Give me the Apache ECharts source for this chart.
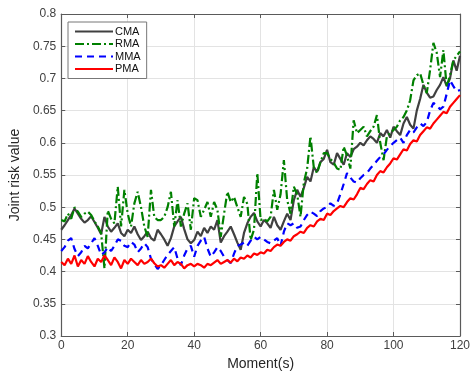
<!DOCTYPE html>
<html>
<head>
<meta charset="utf-8">
<script src="https://cdn.jsdelivr.net/npm/echarts@6/dist/echarts.min.js"></script>
<style>html,body{margin:0;padding:0;background:#fff}#c{width:473px;height:376px}</style>
</head>
<body>
<div id="c"></div>
<script>
const seriesNames = ['CMA', 'RMA', 'MMA', 'PMA'];
const xTicks = [0, 20, 40, 60, 80, 100, 120];
const yTicks = [0.3, 0.35, 0.4, 0.45, 0.5, 0.55, 0.6, 0.65, 0.7, 0.75, 0.8];

const CMA = [
  0.465, 0.472, 0.480, 0.488, 0.498, 0.490, 0.482, 0.476, 0.480, 0.486,
  0.477, 0.468, 0.458, 0.485, 0.470, 0.462, 0.468, 0.475, 0.460, 0.455,
  0.465, 0.460, 0.470, 0.458, 0.449, 0.455, 0.462, 0.452, 0.448, 0.465,
  0.458, 0.450, 0.440, 0.452, 0.470, 0.478, 0.485, 0.466, 0.450, 0.444,
  0.449, 0.462, 0.455, 0.468, 0.460, 0.470, 0.465, 0.480, 0.445, 0.455,
  0.462, 0.470, 0.458, 0.445, 0.434, 0.460, 0.475, 0.485, 0.491, 0.478,
  0.470, 0.480, 0.475, 0.468, 0.485, 0.472, 0.465, 0.478, 0.490, 0.480,
  0.511, 0.527, 0.516, 0.530, 0.547, 0.540, 0.562, 0.555, 0.570, 0.575,
  0.589, 0.570, 0.566, 0.584, 0.575, 0.566, 0.584, 0.578, 0.590, 0.594,
  0.600, 0.596, 0.604, 0.610, 0.606, 0.600, 0.615, 0.610, 0.620, 0.608,
  0.625, 0.618, 0.612, 0.630, 0.640, 0.628, 0.622, 0.650, 0.668, 0.690,
  0.678, 0.670, 0.672, 0.682, 0.690, 0.702, 0.688, 0.700, 0.728, 0.712,
  0.735
];
const RMA = [
  0.480, 0.478, 0.490, 0.482, 0.500, 0.493, 0.485, 0.490, 0.493, 0.488,
  0.478, 0.470, 0.460, 0.405, 0.495, 0.482, 0.475, 0.532, 0.470, 0.527,
  0.490, 0.470, 0.506, 0.524, 0.500, 0.470, 0.454, 0.527, 0.485, 0.480,
  0.480, 0.485, 0.500, 0.524, 0.470, 0.511, 0.470, 0.490, 0.506, 0.465,
  0.514, 0.511, 0.485, 0.496, 0.508, 0.485, 0.508, 0.496, 0.454, 0.490,
  0.524, 0.508, 0.516, 0.500, 0.485, 0.516, 0.505, 0.449, 0.465, 0.553,
  0.480, 0.482, 0.478, 0.485, 0.527, 0.496, 0.520, 0.573, 0.511, 0.490,
  0.532, 0.520, 0.485, 0.538, 0.560, 0.610, 0.562, 0.553, 0.570, 0.584,
  0.584, 0.575, 0.569, 0.560, 0.558, 0.594, 0.580, 0.560, 0.635, 0.615,
  0.620, 0.625, 0.610, 0.618, 0.625, 0.643, 0.600, 0.573, 0.610, 0.615,
  0.620, 0.625, 0.635, 0.640, 0.650, 0.666, 0.697, 0.705, 0.708, 0.690,
  0.677, 0.713, 0.755, 0.740, 0.702, 0.744, 0.687, 0.705, 0.728, 0.735,
  0.742
];
const MMA = [
  0.432, 0.438, 0.448, 0.452, 0.435, 0.424, 0.430, 0.440, 0.436, 0.444,
  0.452, 0.440, 0.426, 0.430, 0.438, 0.432, 0.440, 0.450, 0.448, 0.440,
  0.438, 0.446, 0.442, 0.430, 0.436, 0.444, 0.438, 0.420, 0.412, 0.404,
  0.410, 0.418, 0.426, 0.432, 0.438, 0.420, 0.410, 0.425, 0.436, 0.440,
  0.423, 0.440, 0.448, 0.454, 0.436, 0.423, 0.430, 0.438, 0.432, 0.423,
  0.418, 0.413, 0.428, 0.440, 0.442, 0.445, 0.440, 0.448, 0.454, 0.450,
  0.454, 0.450, 0.446, 0.444, 0.448, 0.452, 0.440, 0.462, 0.475, 0.472,
  0.475, 0.468, 0.470, 0.480, 0.488, 0.493, 0.490, 0.486, 0.494, 0.498,
  0.500, 0.506, 0.502, 0.506, 0.520, 0.536, 0.553, 0.546, 0.540, 0.538,
  0.545, 0.550, 0.553, 0.560, 0.566, 0.572, 0.578, 0.582, 0.589, 0.595,
  0.600, 0.604, 0.608, 0.600, 0.612, 0.620, 0.616, 0.624, 0.630, 0.626,
  0.632, 0.650, 0.662, 0.658, 0.652, 0.656, 0.676, 0.697, 0.688, 0.680,
  0.682
];
const PMA = [
  0.415, 0.410, 0.420, 0.412, 0.425, 0.408, 0.418, 0.412, 0.424, 0.415,
  0.408, 0.420, 0.415, 0.425, 0.418, 0.410, 0.422, 0.415, 0.405, 0.418,
  0.412, 0.420, 0.415, 0.410, 0.418, 0.412, 0.415, 0.420, 0.413, 0.408,
  0.410, 0.406, 0.412, 0.418, 0.410, 0.415, 0.412, 0.405, 0.410, 0.412,
  0.408, 0.412, 0.410, 0.406, 0.412, 0.410, 0.414, 0.418, 0.412, 0.415,
  0.418, 0.414, 0.420, 0.416, 0.422, 0.420, 0.425, 0.422, 0.428, 0.426,
  0.430, 0.428, 0.434, 0.432, 0.438, 0.442, 0.440, 0.446, 0.450, 0.448,
  0.455, 0.458, 0.462, 0.460, 0.468, 0.472, 0.470, 0.478, 0.482, 0.480,
  0.490, 0.488, 0.494, 0.498, 0.502, 0.500, 0.508, 0.514, 0.512, 0.520,
  0.530, 0.528, 0.536, 0.542, 0.540, 0.550, 0.556, 0.554, 0.562, 0.568,
  0.576, 0.574, 0.582, 0.590, 0.588, 0.598, 0.604, 0.602, 0.612, 0.618,
  0.624, 0.622, 0.630, 0.636, 0.642, 0.648, 0.646, 0.656, 0.662, 0.668,
  0.674
];

const pairs = arr => arr.map((v, i) => [i, v]);
const FONT = 'Liberation Sans, Arial, sans-serif';
const chart = echarts.init(document.getElementById('c'), null, {renderer: 'canvas'});

const frame = '#5a5a5a';
const baseX = {
  type: 'value', min: xTicks[0], max: xTicks[xTicks.length - 1], interval: 20,
  axisLine: {show: true, onZero: false, lineStyle: {color: frame, width: 1.2}},
  axisTick: {show: true, inside: true, length: 4, lineStyle: {color: frame}},
  splitLine: {show: false}
};
const baseY = {
  type: 'value', min: yTicks[0], max: yTicks[yTicks.length - 1], interval: 0.05,
  axisLine: {show: true, onZero: false, lineStyle: {color: frame, width: 1.2}},
  axisTick: {show: true, inside: true, length: 4, lineStyle: {color: frame}},
  splitLine: {show: false}
};

chart.setOption({
  animation: false,
  backgroundColor: '#fff',
  textStyle: {fontFamily: FONT},
  grid: {left: 58, right: 8, top: 14, bottom: 40, containLabel: false},
  legend: {
    orient: 'vertical', left: 68, top: 22,
    data: seriesNames,
    itemWidth: 38, itemHeight: 12, itemGap: 1.5,
    padding: [4, 6, 4, 6],
    itemStyle: {opacity: 0},
    borderColor: '#777', borderWidth: 1, backgroundColor: '#fff',
    textStyle: {fontFamily: FONT, fontSize: 11, color: '#111', padding: [0, 0, 0, -3]}
  },
  xAxis: [
    Object.assign({}, baseX, {
      position: 'bottom',
      name: 'Moment(s)', nameLocation: 'middle', nameGap: 20,
      nameTextStyle: {fontFamily: FONT, fontSize: 14, color: '#262626'},
      axisLabel: {fontFamily: FONT, fontSize: 12, color: '#404040', margin: 4},
      splitLine: {show: true, lineStyle: {color: '#e3e3e3', width: 1}}
    }),
    Object.assign({}, baseX, {position: 'top', axisLabel: {show: false}})
  ],
  yAxis: [
    Object.assign({}, baseY, {
      position: 'left',
      name: 'Joint risk value', nameLocation: 'middle', nameGap: 38, nameRotate: 90,
      nameTextStyle: {fontFamily: FONT, fontSize: 14, color: '#262626'},
      axisLabel: {fontFamily: FONT, fontSize: 12, color: '#404040', margin: 5},
      splitLine: {show: true, lineStyle: {color: '#e3e3e3', width: 1}}
    }),
    Object.assign({}, baseY, {position: 'right', axisLabel: {show: false}})
  ],
  series: [
    {name: 'CMA', type: 'line', data: pairs(CMA), symbol: 'none', color: '#404040',
     lineStyle: {color: '#404040', width: 2.2, type: 'solid'}},
    {name: 'RMA', type: 'line', data: pairs(RMA), symbol: 'none', color: '#008000',
     lineStyle: {color: '#008000', width: 2.2, type: [9, 3, 2, 3]}},
    {name: 'MMA', type: 'line', data: pairs(MMA), symbol: 'none', color: '#0000ff',
     lineStyle: {color: '#0000ff', width: 2.2, type: [7, 5]}},
    {name: 'PMA', type: 'line', data: pairs(PMA), symbol: 'none', color: '#ff0000',
     lineStyle: {color: '#ff0000', width: 2.2, type: 'solid'}}
  ]
});
</script>
</body>
</html>
